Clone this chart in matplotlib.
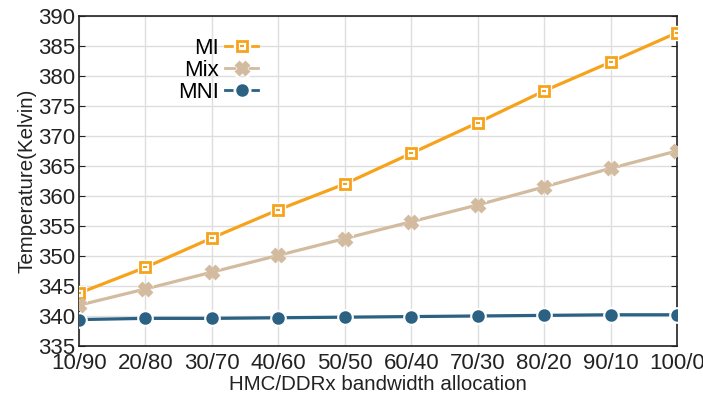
import matplotlib
matplotlib.use('Agg')
import matplotlib.pyplot as plt
from matplotlib.lines import Line2D
from matplotlib.legend_handler import HandlerTuple

plt.rcParams['font.family'] = ['Liberation Sans', 'DejaVu Sans']

# data
labels = ['10/90', '20/80', '30/70', '40/60', '50/50', '60/40', '70/30', '80/20', '90/10', '100/0']
mi = [343.8, 348.1, 353.0, 357.7, 362.0, 367.1, 372.2, 377.5, 382.3, 387.2]
mix = [341.8, 344.5, 347.3, 350.1, 352.9, 355.7, 358.5, 361.5, 364.6, 367.5]
mni = [339.4, 339.6, 339.6, 339.7, 339.8, 339.9, 340.0, 340.1, 340.2, 340.2]

C_MI = '#f7a21b'
C_MIX = '#d3bb9f'
C_MNI = '#2b6182'

fig = plt.figure(figsize=(7.03, 3.98), dpi=100)
ax = fig.add_axes([0.1124, 0.1307, 0.8506, 0.8293])
x = list(range(len(labels)))

series = [
    (mi, C_MI, 's', 6.5, 'MI', 'white'),
    (mix, C_MIX, 'X', 8, 'Mix', C_MIX),
    (mni, C_MNI, 'o', 7, 'MNI', C_MNI),
]
for vals, c, m, ms, name, fc in series:
    ax.plot(x, vals, color=c, lw=2.3, zorder=2)
    # white halo so the line breaks around each marker
    ax.plot(x, vals, ls='none', marker=m, ms=ms + 4, color='white', zorder=3)
    ax.plot(x, vals, ls='none', marker=m, ms=ms, mfc=fc, mec=c, mew=2, zorder=4)
# small dash inside the MI squares
ax.plot(x, mi, ls='none', marker='_', ms=3, mew=1.5, color=C_MI, zorder=5)

# legend: line + white halo + marker, stacked
handles = []
names = []
for vals, c, m, ms, name, fc in series:
    ln = Line2D([], [], color=c, lw=2)
    halo = Line2D([], [], ls='none', marker=m, ms=ms + 5, color='white')
    mk = Line2D([], [], ls='none', marker=m, ms=ms, mfc=fc, mec=c, mew=2)
    if m == 's':
        dash = Line2D([], [], ls='none', marker='_', ms=3, mew=1.5, color=c)
        handles.append((ln, halo, mk, dash))
    else:
        handles.append((ln, halo, mk))
    names.append(name)
leg = ax.legend(handles, names, loc='upper left', bbox_to_anchor=(0.132, 0.995),
                frameon=False, markerfirst=False, fontsize=16, handlelength=1.45,
                labelspacing=0.05, handletextpad=0.3,
                handler_map={tuple: HandlerTuple(ndivide=1, pad=0)})
for t in leg.get_texts():
    t.set_ha('right')

ax.set_xlim(0, len(labels) - 1)
ax.set_ylim(335, 390)
ax.set_xticks(x)
ax.set_xticklabels(labels)
ax.set_yticks(range(335, 391, 5))
ax.tick_params(axis='both', labelsize=16, direction='in', colors='#222222')
ax.tick_params(axis='x', length=0, pad=5)
ax.tick_params(axis='y', length=4, right=True, pad=3)
ax.grid(True, color='#dedede', lw=1)
ax.set_axisbelow(True)
for s in ax.spines.values():
    s.set_color('#222222')
    s.set_linewidth(1.2)

ax.set_xlabel('HMC/DDRx bandwidth allocation', fontsize=14.8, color='#222222', labelpad=1)
ax.set_ylabel('Temperature(Kelvin)', fontsize=14.8, color='#222222', labelpad=1)

fig.savefig('out.png', dpi=100)
